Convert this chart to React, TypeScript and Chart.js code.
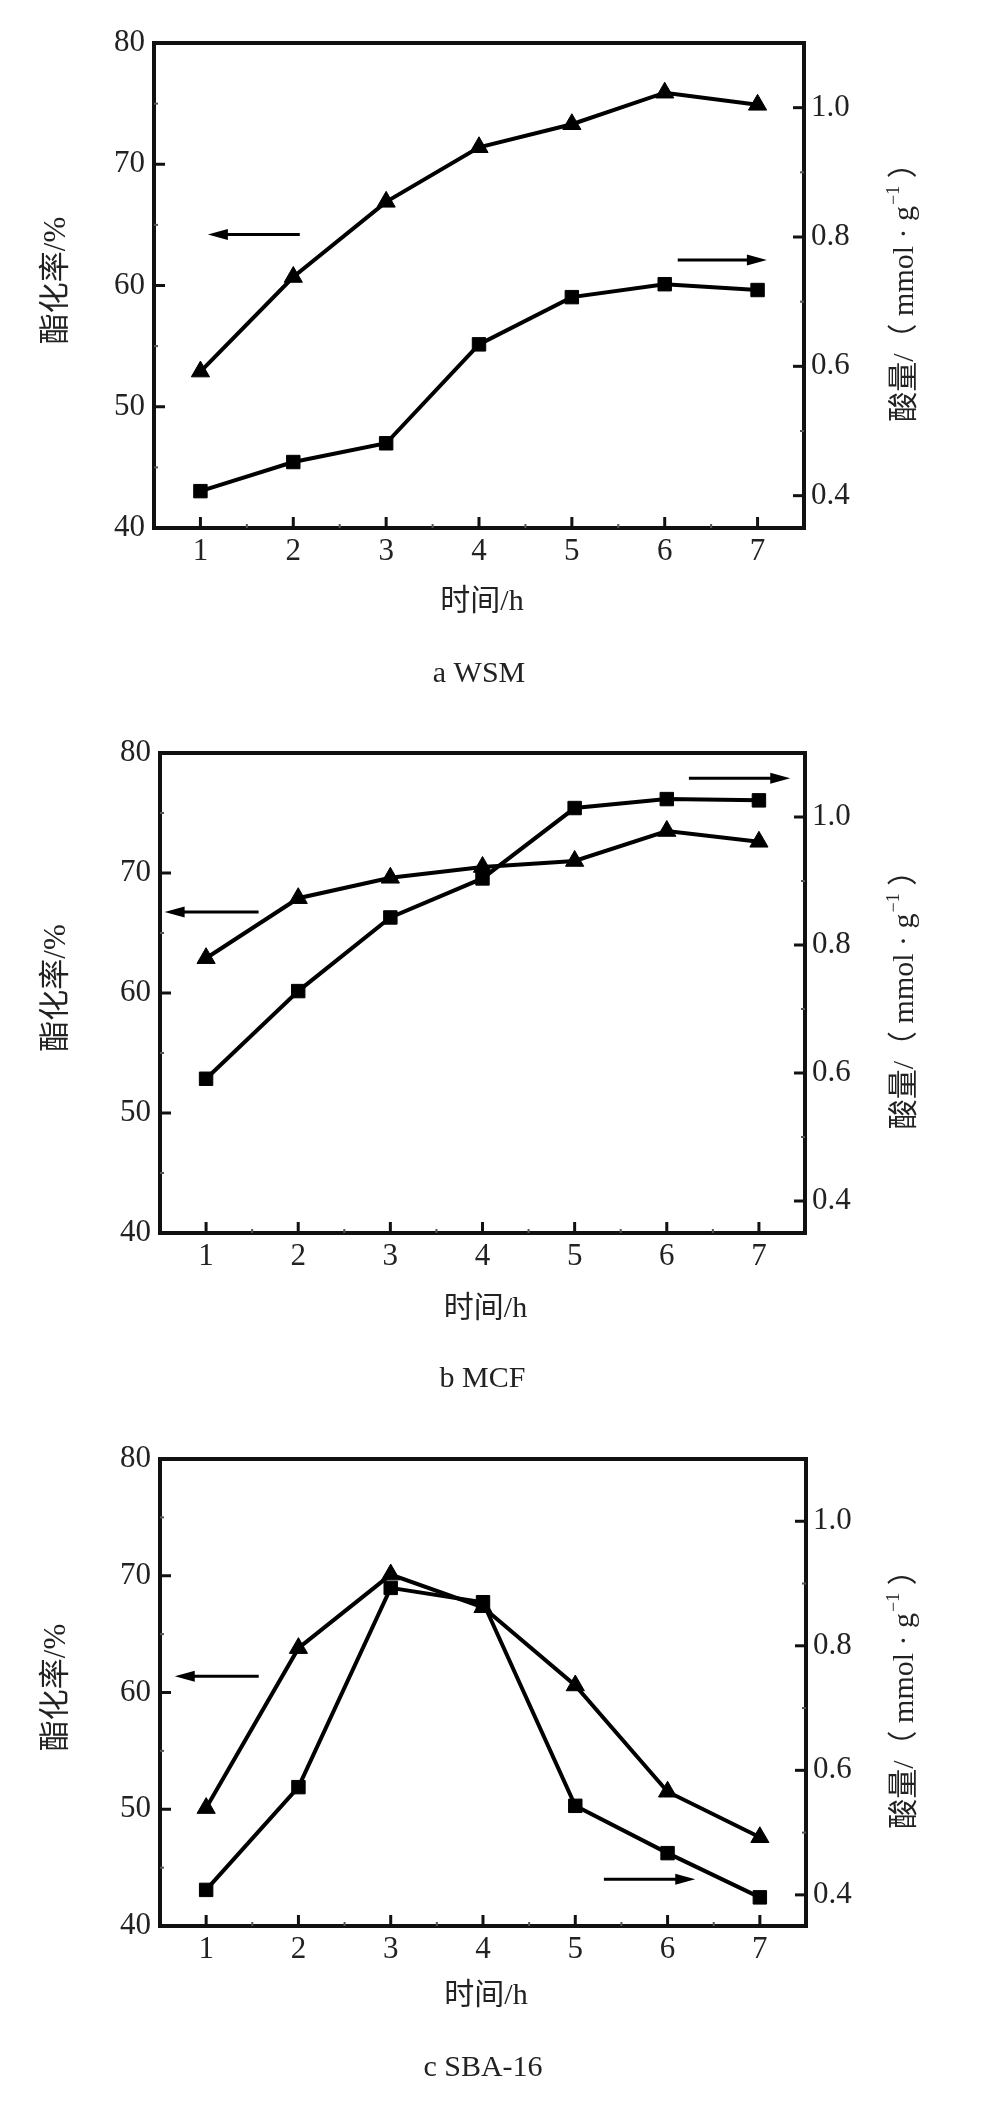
import React, { useEffect, useRef } from 'react';
import { Chart, registerables } from 'chart.js';

Chart.register(...registerables);

// ---------- data ----------
const hours = [1, 2, 3, 4, 5, 6, 7];
const xTickValues = [1, 2, 3, 4, 5, 6, 7];
const xMinorValues = [1.5, 2.5, 3.5, 4.5, 5.5, 6.5];
const leftTickValues = [40, 50, 60, 70, 80];
const leftMinorValues = [45, 55, 65, 75];
const rightTickValues = [0.4, 0.6, 0.8, 1.0];
const rightMinorValues = [0.5, 0.7, 0.9];

// esterification rate (%) – triangles, left axis
const wsmEster = [52.9, 60.7, 66.9, 71.4, 73.3, 75.9, 74.9];
const mcfEster = [62.9, 67.9, 69.6, 70.5, 71.0, 73.5, 72.6];
const sbaEster = [50.1, 63.8, 70.1, 67.3, 60.6, 51.5, 47.6];

// acid amount (mmol/g) – squares, right axis
const wsmAcid = [0.407, 0.452, 0.481, 0.634, 0.707, 0.727, 0.718];
const mcfAcid = [0.591, 0.728, 0.843, 0.904, 1.014, 1.028, 1.026];
const sbaAcid = [0.408, 0.573, 0.893, 0.870, 0.543, 0.467, 0.396];

// arrows (data units: x, left axis y) – [tailX, tipX, y]
const wsmArrows = [
  [2.07, 1.08, 64.2],
  [6.14, 7.1, 62.1],
];
const mcfArrows = [
  [1.57, 0.55, 66.75],
  [6.24, 7.34, 77.9],
];
const sbaArrows = [
  [1.57, 0.66, 61.4],
  [5.31, 6.3, 44.0],
];

const xTitle = '时间/h';
const leftTitle = '酯化率/%';
const rightTitleMain = '酸量/（ mmol · g';
const rightTitleSup = '−1';
const rightTitleEnd = ' ）';

const captions = ['a WSM', 'b MCF', 'c SBA-16'];

// ---------- layout ----------
const W = 992;
const SERIF = "'Liberation Serif', 'Noto Sans CJK SC', serif";
const TEXT = '#222';
const SIDE_BOX = 120;
const BOTTOM_BOX = 60;

type Panel = {
  top: number;
  height: number;
  area: { l: number; r: number; t: number; b: number };
  ester: number[];
  acid: number[];
  arrows: number[][];
  caption: string;
  xTitleY: number;
  captionY: number;
};

const panels: Panel[] = [
  {
    top: 0, height: 700,
    area: { l: 154, r: 804, t: 43, b: 528 },
    ester: wsmEster, acid: wsmAcid, arrows: wsmArrows, caption: captions[0],
    xTitleY: 602, captionY: 674,
  },
  {
    top: 700, height: 700,
    area: { l: 160, r: 805, t: 53, b: 533 },
    ester: mcfEster, acid: mcfAcid, arrows: mcfArrows, caption: captions[1],
    xTitleY: 609, captionY: 679,
  },
  {
    top: 1400, height: 701,
    area: { l: 160, r: 806, t: 59, b: 526 },
    ester: sbaEster, acid: sbaAcid, arrows: sbaArrows, caption: captions[2],
    xTitleY: 596, captionY: 668,
  },
];

function makeDecor(panel: Panel) {
  return {
    id: 'decor',
    afterDraw(chart: any) {
      const { ctx, chartArea: a, scales } = chart;
      const x = scales.x, yL = scales.yL, yR = scales.yR;
      ctx.save();
      const line = (x1: number, y1: number, x2: number, y2: number) => {
        ctx.beginPath();
        ctx.moveTo(x1, y1);
        ctx.lineTo(x2, y2);
        ctx.stroke();
      };
      // frame
      ctx.strokeStyle = '#111';
      ctx.lineWidth = 4;
      ctx.strokeRect(a.left, a.top, a.right - a.left, a.bottom - a.top);
      // major ticks (inward)
      ctx.lineWidth = 3;
      xTickValues.forEach((v) => {
        const px = x.getPixelForValue(v);
        line(px, a.bottom, px, a.bottom - 11);
      });
      leftTickValues.forEach((v) => {
        const py = yL.getPixelForValue(v);
        if (py > a.top + 3 && py < a.bottom - 3) line(a.left, py, a.left + 11, py);
      });
      rightTickValues.forEach((v) => {
        const py = yR.getPixelForValue(v);
        if (py > a.top + 3 && py < a.bottom - 3) line(a.right, py, a.right - 11, py);
      });
      // minor ticks
      ctx.lineWidth = 2;
      ctx.strokeStyle = '#555';
      xMinorValues.forEach((v) => {
        const px = x.getPixelForValue(v);
        line(px, a.bottom, px, a.bottom - 4);
      });
      leftMinorValues.forEach((v) => {
        const py = yL.getPixelForValue(v);
        line(a.left, py, a.left + 4, py);
      });
      rightMinorValues.forEach((v) => {
        const py = yR.getPixelForValue(v);
        line(a.right, py, a.right - 4, py);
      });
      // arrows
      ctx.strokeStyle = '#000';
      ctx.fillStyle = '#000';
      ctx.lineWidth = 3;
      panel.arrows.forEach(([tx, hx, yv]) => {
        const x1 = x.getPixelForValue(tx);
        const x2 = x.getPixelForValue(hx);
        const py = yL.getPixelForValue(yv);
        const dir = x2 > x1 ? 1 : -1;
        const headLen = 20;
        const hw = 5.5;
        line(x1, py, x2 - dir * (headLen - 2), py);
        ctx.beginPath();
        ctx.moveTo(x2, py);
        ctx.lineTo(x2 - dir * headLen, py - hw);
        ctx.lineTo(x2 - dir * headLen, py + hw);
        ctx.closePath();
        ctx.fill();
      });
      // texts
      ctx.fillStyle = TEXT;
      ctx.textBaseline = 'middle';
      const cx = (a.left + a.right) / 2;
      const cy = (a.top + a.bottom) / 2;
      ctx.font = `30px ${SERIF}`;
      ctx.textAlign = 'center';
      ctx.fillText(xTitle, cx + 3, panel.xTitleY);
      ctx.fillText(panel.caption, cx, panel.captionY);
      // left title
      ctx.save();
      ctx.translate(57, cy - 5);
      ctx.rotate(-Math.PI / 2);
      ctx.font = `31px ${SERIF}`;
      ctx.textAlign = 'center';
      ctx.fillText(leftTitle, 0, 0);
      ctx.restore();
      // right title
      ctx.save();
      ctx.translate(905, cy);
      ctx.rotate(-Math.PI / 2);
      ctx.textAlign = 'left';
      const mainFont = `30px ${SERIF}`;
      const supFont = `18px ${SERIF}`;
      ctx.font = mainFont;
      const w1 = ctx.measureText(rightTitleMain).width;
      const w3 = ctx.measureText(rightTitleEnd).width;
      ctx.font = supFont;
      const w2 = ctx.measureText(rightTitleSup).width;
      let sx = -(w1 + w2 + w3) / 2;
      ctx.font = mainFont;
      ctx.fillText(rightTitleMain, sx, 0);
      sx += w1;
      ctx.font = supFont;
      ctx.fillText(rightTitleSup, sx + 1, -11);
      sx += w2 + 1;
      ctx.font = mainFont;
      ctx.fillText(rightTitleEnd, sx, 0);
      ctx.restore();
      ctx.restore();
    },
  };
}

function PanelChart({ panel }: { panel: Panel }) {
  const ref = useRef<HTMLCanvasElement | null>(null);
  useEffect(() => {
    if (!ref.current) return;
    const { area, height } = panel;
    const tickFont = { family: SERIF, size: 31 };
    const chart = new Chart(ref.current, {
      type: 'line',
      data: {
        datasets: [
          {
            data: hours.map((h, i) => ({ x: h, y: panel.ester[i] })),
            yAxisID: 'yL',
            borderColor: '#000',
            backgroundColor: '#000',
            borderWidth: 4,
            pointStyle: 'triangle',
            pointRadius: 10.5,
            pointBorderWidth: 1,
            pointBackgroundColor: '#000',
            pointBorderColor: '#000',
            tension: 0,
          },
          {
            data: hours.map((h, i) => ({ x: h, y: panel.acid[i] })),
            yAxisID: 'yR',
            borderColor: '#000',
            backgroundColor: '#000',
            borderWidth: 4,
            pointStyle: 'rect',
            pointRadius: 9.5,
            pointBorderWidth: 1,
            pointBackgroundColor: '#000',
            pointBorderColor: '#000',
            tension: 0,
          },
        ],
      },
      options: {
        animation: false,
        responsive: false,
        devicePixelRatio: 1,
        layout: {
          padding: {
            left: area.l - SIDE_BOX,
            right: W - area.r - SIDE_BOX,
            top: area.t,
            bottom: height - area.b - BOTTOM_BOX,
          },
        },
        plugins: { legend: { display: false }, tooltip: { enabled: false } },
        scales: {
          x: {
            type: 'linear',
            min: 0.5,
            max: 7.5,
            afterBuildTicks: (s: any) => { s.ticks = xTickValues.map((v) => ({ value: v })); },
            afterFit: (s: any) => { s.height = BOTTOM_BOX; },
            grid: { display: false, drawTicks: false },
            border: { display: false },
            ticks: { font: tickFont, color: TEXT, padding: 5, maxRotation: 0, autoSkip: false, callback: (v: any) => String(v) },
          },
          yL: {
            type: 'linear',
            position: 'left',
            min: 40,
            max: 80,
            afterBuildTicks: (s: any) => { s.ticks = leftTickValues.map((v) => ({ value: v })); },
            afterFit: (s: any) => { s.width = SIDE_BOX; },
            grid: { display: false, drawTicks: false },
            border: { display: false },
            ticks: { font: tickFont, color: TEXT, padding: 9, callback: (v: any) => String(v) },
          },
          yR: {
            type: 'linear',
            position: 'right',
            min: 0.35,
            max: 1.1,
            afterBuildTicks: (s: any) => { s.ticks = rightTickValues.map((v) => ({ value: v })); },
            afterFit: (s: any) => { s.width = SIDE_BOX; },
            grid: { display: false, drawTicks: false },
            border: { display: false },
            ticks: { font: tickFont, color: TEXT, padding: 7, callback: (v: any) => Number(v).toFixed(1) },
          },
        },
      } as any,
      plugins: [makeDecor(panel)],
    });
    return () => chart.destroy();
  }, [panel]);
  return (
    <canvas
      ref={ref}
      width={W}
      height={panel.height}
      style={{ position: 'absolute', left: 0, top: panel.top, width: W, height: panel.height, display: 'block' }}
    />
  );
}

export default function App() {
  return (
    <div style={{ position: 'absolute', left: 0, top: 0, width: W, height: 2101, background: '#fff' }}>
      {panels.map((p, i) => (
        <PanelChart key={i} panel={p} />
      ))}
    </div>
  );
}
